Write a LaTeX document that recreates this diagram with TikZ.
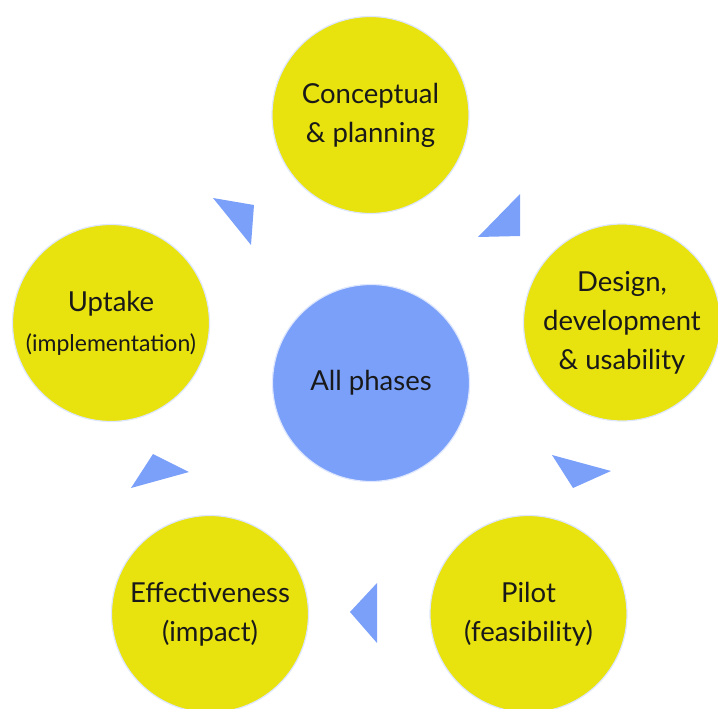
\documentclass[tikz,border=0pt]{standalone}
\usepackage{fontspec}
\setmainfont{Lato}
\usepackage{xcolor}
\usetikzlibrary{positioning,calc}
\definecolor{phaseyellow}{RGB}{232,226,14}
\definecolor{phaseblue}{RGB}{122,160,250}
\definecolor{phasetext}{RGB}{25,25,25}
\tikzset{
    phase/.style={circle, fill=phaseyellow, draw=phaseblue!25, line width=1.2pt,
        minimum size=197pt, inner sep=0pt, align=center, text=phasetext,
        font=\fontsize{27.5}{39}\selectfont},
    hub/.style={phase, fill=phaseblue},
    pointer/.style={fill=phaseblue}
}
\begin{document}
\begin{tikzpicture}[x=1pt,y=-1pt]
    \useasboundingbox (0,0) rectangle (718,709);

    % Phases
    \node [phase] (concept) at (370.5,115) {Conceptual\\\& planning};
    \node [phase] (design) at (622,322.5) {Design,\\development\\\& usability};
    \node [phase] (pilot) at (528.5,614) {Pilot\\(feasibility)};
    \node [phase] (effect) at (210,614) {Effectiveness\\(impact)};
    \node [phase] (uptake) at (111,323) {Uptake\\[1pt]{\fontsize{23}{39}\selectfont (implementation)}};

    % Centre
    \node [hub] (all) at (371,383) {All phases};

    % Pointers between phases
    \fill [pointer] (520,194) -- (520,236) -- (478,237) -- cycle;
    \fill [pointer] (552,455) -- (611,471) -- (573,488) -- cycle;
    \fill [pointer] (377,583) -- (377,643) -- (350,612) -- cycle;
    \fill [pointer] (153,454) -- (189,472) -- (131,488) -- cycle;
    \fill [pointer] (213,198) -- (254,205) -- (251,245) -- cycle;

\end{tikzpicture}
\end{document}
